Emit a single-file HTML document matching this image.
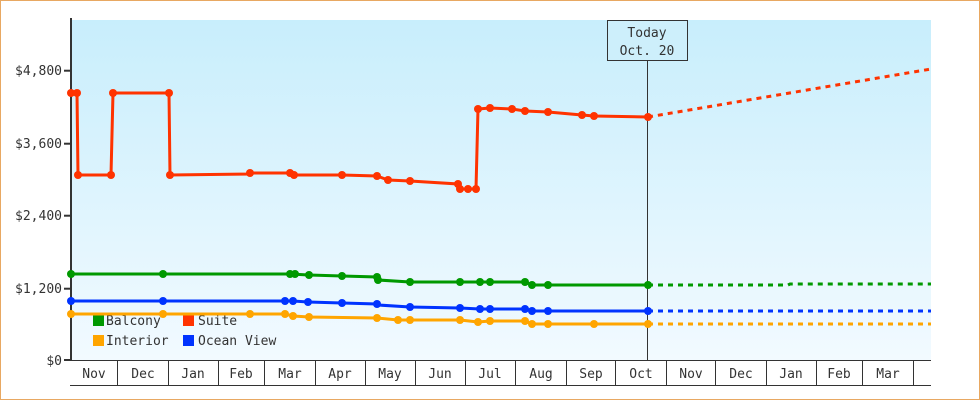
<!DOCTYPE html>
<html><head><style>
html,body{margin:0;padding:0;background:#fff}
svg{display:block}
text{font-family:"DejaVu Sans Mono","Liberation Mono",monospace;font-size:13px;fill:#333}
</style></head><body>
<svg width="980" height="400" viewBox="0 0 980 400" xmlns="http://www.w3.org/2000/svg">
<defs><linearGradient id="bg" x1="0" y1="0" x2="0" y2="1"><stop offset="0" stop-color="#c8eefc"/><stop offset="1" stop-color="#f2faff"/></linearGradient></defs>
<rect x="0.5" y="0.5" width="979" height="399" fill="#fff" stroke="#e8a862"/>
<rect x="71" y="20" width="860" height="340" fill="url(#bg)"/>
<!-- axes -->
<line x1="71" y1="18" x2="71" y2="361" stroke="#333" stroke-width="2"/>
<g stroke="#333" stroke-width="2">
<line x1="64" y1="70.7" x2="71" y2="70.7"/><line x1="64" y1="143.7" x2="71" y2="143.7"/><line x1="64" y1="215.7" x2="71" y2="215.7"/><line x1="64" y1="288.7" x2="71" y2="288.7"/><line x1="64" y1="360" x2="71" y2="360"/>
</g>
<g text-anchor="end">
<text x="62" y="75">$4,800</text><text x="62" y="148">$3,600</text><text x="62" y="220">$2,400</text><text x="62" y="293">$1,200</text><text x="62" y="365">$0</text>
</g>
<line x1="70" y1="360.5" x2="931" y2="360.5" stroke="#333"/>
<line x1="70" y1="385.5" x2="931" y2="385.5" stroke="#333"/>
<g stroke="#333">
<line x1="117.5" y1="360" x2="117.5" y2="385"/><line x1="168.5" y1="360" x2="168.5" y2="385"/><line x1="218.5" y1="360" x2="218.5" y2="385"/><line x1="264.5" y1="360" x2="264.5" y2="385"/><line x1="315.5" y1="360" x2="315.5" y2="385"/><line x1="365.5" y1="360" x2="365.5" y2="385"/><line x1="415.5" y1="360" x2="415.5" y2="385"/><line x1="465.5" y1="360" x2="465.5" y2="385"/><line x1="515.5" y1="360" x2="515.5" y2="385"/><line x1="566.5" y1="360" x2="566.5" y2="385"/><line x1="615.5" y1="360" x2="615.5" y2="385"/><line x1="666.5" y1="360" x2="666.5" y2="385"/><line x1="715.5" y1="360" x2="715.5" y2="385"/><line x1="766.5" y1="360" x2="766.5" y2="385"/><line x1="816.5" y1="360" x2="816.5" y2="385"/><line x1="862.5" y1="360" x2="862.5" y2="385"/><line x1="913.5" y1="360" x2="913.5" y2="385"/>
</g>
<g text-anchor="middle">
<text x="94" y="378">Nov</text><text x="143" y="378">Dec</text><text x="193" y="378">Jan</text><text x="241" y="378">Feb</text><text x="290" y="378">Mar</text><text x="340" y="378">Apr</text><text x="390" y="378">May</text><text x="440" y="378">Jun</text><text x="490" y="378">Jul</text><text x="541" y="378">Aug</text><text x="591" y="378">Sep</text><text x="641" y="378">Oct</text><text x="691" y="378">Nov</text><text x="741" y="378">Dec</text><text x="791" y="378">Jan</text><text x="839" y="378">Feb</text><text x="888" y="378">Mar</text>
</g>
<!-- today -->
<line x1="647.5" y1="60" x2="647.5" y2="360" stroke="#333"/>
<rect x="607.5" y="20.5" width="80" height="40" fill="#cdeffb" stroke="#333"/>
<text x="647" y="37" text-anchor="middle">Today</text>
<text x="647" y="55" text-anchor="middle">Oct. 20</text>
<!-- legend -->
<rect x="93" y="315" width="11" height="11" fill="#009900"/><text x="106" y="325">Balcony</text>
<rect x="183" y="315" width="11" height="11" fill="#ff3300"/><text x="198" y="325">Suite</text>
<rect x="93" y="335" width="11" height="11" fill="#ffa500"/><text x="106" y="345">Interior</text>
<rect x="183" y="335" width="11" height="11" fill="#0033ff"/><text x="198" y="345">Ocean View</text>
<!-- series -->
<g fill="none" stroke-width="3">
<polyline stroke="#ff3300" points="71,93 77,93 78,175 111,175 113,93 169,93 170,175 250,174 250,173 290,173 294,175 342,175 377,176 388,180 410,181 458,184 460,189 476,189 478,109 490,108 512,109 525,111 548,112 582,115 594,116 648,117"/>
<polyline stroke="#ff3300" stroke-dasharray="5,5" points="648,117 931,69"/>
<polyline stroke="#009900" points="71,274 290,274 309,275 342,276 377,277 378,280 410,282 525,282 532,285 648,285"/>
<polyline stroke="#009900" stroke-dasharray="5,5" points="648,285 788,285 790,284 931,284"/>
<polyline stroke="#0033ff" points="71,301 293,301 308,302 342,303 377,304 378,305 410,307 460,308 480,309 525,309 532,311 648,311"/>
<polyline stroke="#0033ff" stroke-dasharray="5,5" points="648,311 931,311"/>
<polyline stroke="#ffa500" points="71,314 250,314 285,314 293,316 309,317 377,318 398,320 460,320 478,322 490,321 525,321 532,324 648,324"/>
<polyline stroke="#ffa500" stroke-dasharray="5,5" points="648,324 931,324"/>
</g>
<g fill="#ff3300">
<circle cx="71" cy="93" r="4"/><circle cx="77" cy="93" r="4"/><circle cx="78" cy="175" r="4"/><circle cx="111" cy="175" r="4"/><circle cx="113" cy="93" r="4"/><circle cx="169" cy="93" r="4"/><circle cx="170" cy="175" r="4"/><circle cx="250" cy="173" r="4"/><circle cx="290" cy="173" r="4"/><circle cx="294" cy="175" r="4"/><circle cx="342" cy="175" r="4"/><circle cx="377" cy="176" r="4"/><circle cx="388" cy="180" r="4"/><circle cx="410" cy="181" r="4"/><circle cx="458" cy="184" r="4"/><circle cx="460" cy="189" r="4"/><circle cx="468" cy="189" r="4"/><circle cx="476" cy="189" r="4"/><circle cx="478" cy="109" r="4"/><circle cx="490" cy="108" r="4"/><circle cx="512" cy="109" r="4"/><circle cx="525" cy="111" r="4"/><circle cx="548" cy="112" r="4"/><circle cx="582" cy="115" r="4"/><circle cx="594" cy="116" r="4"/><circle cx="648" cy="117" r="4"/>
</g>
<g fill="#009900">
<circle cx="71" cy="274" r="4"/><circle cx="163" cy="274" r="4"/><circle cx="290" cy="274" r="4"/><circle cx="295" cy="274" r="4"/><circle cx="309" cy="275" r="4"/><circle cx="342" cy="276" r="4"/><circle cx="377" cy="277" r="4"/><circle cx="378" cy="280" r="4"/><circle cx="410" cy="282" r="4"/><circle cx="460" cy="282" r="4"/><circle cx="480" cy="282" r="4"/><circle cx="490" cy="282" r="4"/><circle cx="525" cy="282" r="4"/><circle cx="532" cy="285" r="4"/><circle cx="548" cy="285" r="4"/><circle cx="648" cy="285" r="4"/>
</g>
<g fill="#0033ff">
<circle cx="71" cy="301" r="4"/><circle cx="163" cy="301" r="4"/><circle cx="285" cy="301" r="4"/><circle cx="293" cy="301" r="4"/><circle cx="308" cy="302" r="4"/><circle cx="342" cy="303" r="4"/><circle cx="377" cy="304" r="4"/><circle cx="410" cy="307" r="4"/><circle cx="460" cy="308" r="4"/><circle cx="480" cy="309" r="4"/><circle cx="490" cy="309" r="4"/><circle cx="525" cy="309" r="4"/><circle cx="532" cy="311" r="4"/><circle cx="548" cy="311" r="4"/><circle cx="648" cy="311" r="4"/>
</g>
<g fill="#ffa500">
<circle cx="71" cy="314" r="4"/><circle cx="163" cy="314" r="4"/><circle cx="250" cy="314" r="4"/><circle cx="285" cy="314" r="4"/><circle cx="293" cy="316" r="4"/><circle cx="309" cy="317" r="4"/><circle cx="377" cy="318" r="4"/><circle cx="398" cy="320" r="4"/><circle cx="410" cy="320" r="4"/><circle cx="460" cy="320" r="4"/><circle cx="478" cy="322" r="4"/><circle cx="490" cy="321" r="4"/><circle cx="525" cy="321" r="4"/><circle cx="532" cy="324" r="4"/><circle cx="548" cy="324" r="4"/><circle cx="594" cy="324" r="4"/><circle cx="648" cy="324" r="4"/>
</g>
</svg>
</body></html>
